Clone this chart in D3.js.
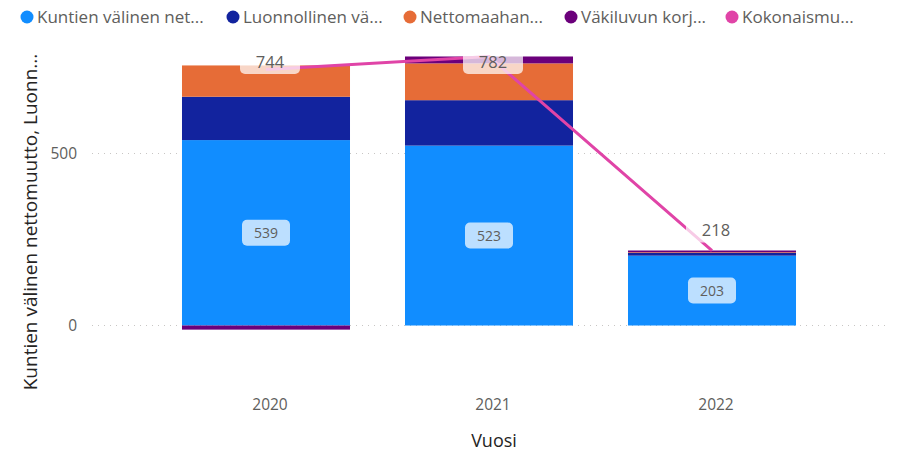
<!DOCTYPE html>
<html><head><meta charset="utf-8">
<script src="https://cdn.jsdelivr.net/npm/d3@7"></script>
<style>
body{margin:0;background:#fff;}
svg text{font-family:"Segoe UI","Open Sans","Noto Sans",sans-serif;}
</style></head>
<body><svg id="c" width="901" height="452"></svg>
<script>
const years = ["2020","2021","2022"];
const seriesNames = ["Kuntien välinen net...","Luonnollinen vä...","Nettomaahan...","Väkiluvun korj...","Kokonaismu..."];
const kuntien = [539,523,203];
const luonnollinen = [126,132,8];
const nettomaahan = [91,107,2];
const korjaus = [-12,20,5];
const kokonais = [744,782,218];
const yTicks = [0,500];
const xTitle = "Vuosi";
const yTitle = "Kuntien välinen nettomuutto, Luonn...";
const colors = ["#118DFF","#12239E","#E66C37","#6B007B","#E044A7"];

const svg = d3.select("#c");
const x = d3.scaleBand().domain(years).range([127,851]).padding(0.2466);
const y = d3.scaleLinear().domain([-200,800]).range([394.3,50.3]);

// gridlines
svg.append("g").selectAll("line").data(yTicks).join("line")
  .attr("x1",92).attr("x2",885).attr("y1",d=>y(d)).attr("y2",d=>y(d))
  .attr("stroke","#c8c6c4").attr("stroke-width",1).attr("stroke-dasharray","1,5");

// y axis labels
const yAxis = d3.axisLeft(y).tickValues(yTicks).tickSize(0).tickPadding(0);
const ya = svg.append("g").attr("transform","translate(77,0)").call(yAxis);
ya.select(".domain").remove();
ya.selectAll("text").attr("fill","#605E5C").style("font-size","15.5px");

// x axis labels
const xAxis = d3.axisBottom(x).tickSize(0).tickPadding(0);
const xa = svg.append("g").attr("transform","translate(4,399)").call(xAxis);
xa.select(".domain").remove();
xa.selectAll("text").attr("fill","#605E5C").style("font-size","15.5px");

// titles
svg.append("text").attr("x",494).attr("y",447).attr("text-anchor","middle")
  .attr("fill","#252423").style("font-size","18px").text(xTitle);
svg.append("text").attr("transform","translate(37,222) rotate(-90)").attr("text-anchor","middle")
  .attr("fill","#252423").style("font-size","19px").text(yTitle);

// stacked bars
const table = years.map((yr,i)=>({year:yr,s0:kuntien[i],s1:luonnollinen[i],s2:nettomaahan[i],s3:korjaus[i]}));
const stack = d3.stack().keys(["s0","s1","s2","s3"]).offset(d3.stackOffsetDiverging)(table);
svg.append("g").selectAll("g").data(stack).join("g").attr("fill",(d,i)=>colors[i])
  .selectAll("rect").data(d=>d).join("rect")
  .attr("x",d=>x(d.data.year)).attr("width",x.bandwidth())
  .attr("y",d=>y(Math.max(d[0],d[1]))).attr("height",d=>Math.abs(y(d[0])-y(d[1])));

// line
const line = d3.line().x((d,i)=>x(years[i])+x.bandwidth()/2).y(d=>y(d));
svg.append("path").datum(kokonais).attr("d",line).attr("fill","none")
  .attr("stroke",colors[4]).attr("stroke-width",3);

// labels
function label(g,cx,cy,txt,size,w,h,fill){
  g.append("rect").attr("x",cx-w/2).attr("y",cy-h/2).attr("width",w).attr("height",h)
    .attr("rx",5).attr("fill","#fff").attr("fill-opacity",0.72);
  g.append("text").attr("x",cx).attr("y",cy).attr("dy","0.36em").attr("text-anchor","middle")
    .attr("fill",fill).style("font-size",size+"px").text(txt);
}
const lg = svg.append("g");
years.forEach((yr,i)=>{
  const cx = x(yr)+x.bandwidth()/2;
  label(lg,cx,(y(0)+y(kuntien[i]))/2,String(kuntien[i]),14,48,26,"#605E5C");
  const ty = Math.max(y(kokonais[i])-20,62);
  label(lg,cx+4,ty,String(kokonais[i]),16.5,60,24,"#605E5C");
});

// legend
const legX = [27,233,410,571,732];
const leg = svg.append("g").selectAll("g").data(seriesNames).join("g")
  .attr("transform",(d,i)=>`translate(${legX[i]},17)`);
leg.append("circle").attr("r",6.5).attr("fill",(d,i)=>colors[i]);
leg.append("text").attr("x",10).attr("dy","0.35em").attr("fill","#605E5C")
  .style("font-size","17px").text(d=>d);
</script></body></html>
